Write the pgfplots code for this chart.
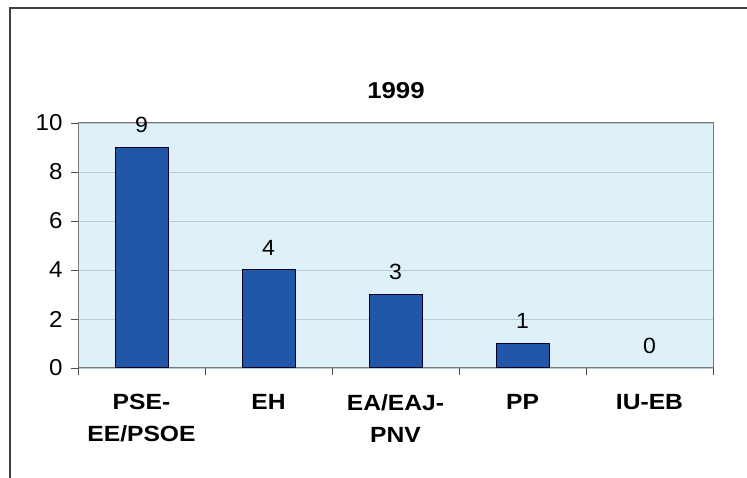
\documentclass[border=0pt]{standalone}
\usepackage{pgfplots}
\pgfplotsset{compat=1.18}
\usepackage{fontspec}
\setmainfont{Liberation Sans}
\newfontfamily\widefont[FakeStretch=1.12]{Liberation Sans}
\newfontfamily\tickfont[FakeStretch=1.05]{Liberation Sans}
\definecolor{barblue}{RGB}{33,87,168}
\definecolor{bgblue}{RGB}{222,240,248}
\definecolor{gridc}{RGB}{185,202,210}
\definecolor{framec}{RGB}{120,120,120}
\begin{document}
\begin{tikzpicture}[font=\fontsize{22}{30}\selectfont]
\path[use as bounding box] (0,0) rectangle (747pt,478pt);
\draw[line width=1.3pt, black!75] (10pt,-2pt) -- (10pt,470pt) -- (749pt,470pt);
\begin{axis}[
  at={(78pt,110pt)}, anchor=south west,
  scale only axis, width=635pt, height=245pt,
  /pgf/number format/assume math mode=true,
  xmin=-0.5, xmax=4.5, ymin=0, ymax=10,
  ytick={0,2,4,6,8,10},
  xtick={-0.5,0.5,1.5,2.5,3.5,4.5}, xticklabels={},
  extra x ticks={0,1,2,3,4},
  extra x tick labels={{PSE-\\EE/PSOE},EH,{EA/EAJ-\\PNV},PP,IU-EB},
  extra x tick style={major tick length=0pt, tick style={draw=none}},
  xtick pos=bottom, ytick pos=left,
  xticklabel style={font=\widefont\fontsize{22}{32}\selectfont\bfseries, align=center, yshift=-23pt},
  yticklabel style={font=\tickfont\fontsize{23}{26}\selectfont, xshift=-5pt},
  tick align=outside, major tick length=7pt,
  tick style={draw=black!70, line width=0.8pt},
  axis line style={draw=framec, line width=1pt},
  axis background/.style={fill=bgblue},
  ymajorgrids, grid style={draw=gridc, line width=0.8pt},
  ybar, bar width=53pt, bar shift=0pt,
  nodes near coords,
  nodes near coords style={font=\tickfont\fontsize{22}{26}\selectfont, yshift=11pt},
]
\addplot[fill=barblue, draw=black!85!blue, line width=1pt] coordinates {(0,9) (1,4) (2,3) (3,1)};
\addplot[draw=none, fill=none] coordinates {(4,0)};
\end{axis}
\node[font=\widefont\fontsize{23}{26}\selectfont\bfseries] at (396pt,387pt) {1999};
\end{tikzpicture}
\end{document}
